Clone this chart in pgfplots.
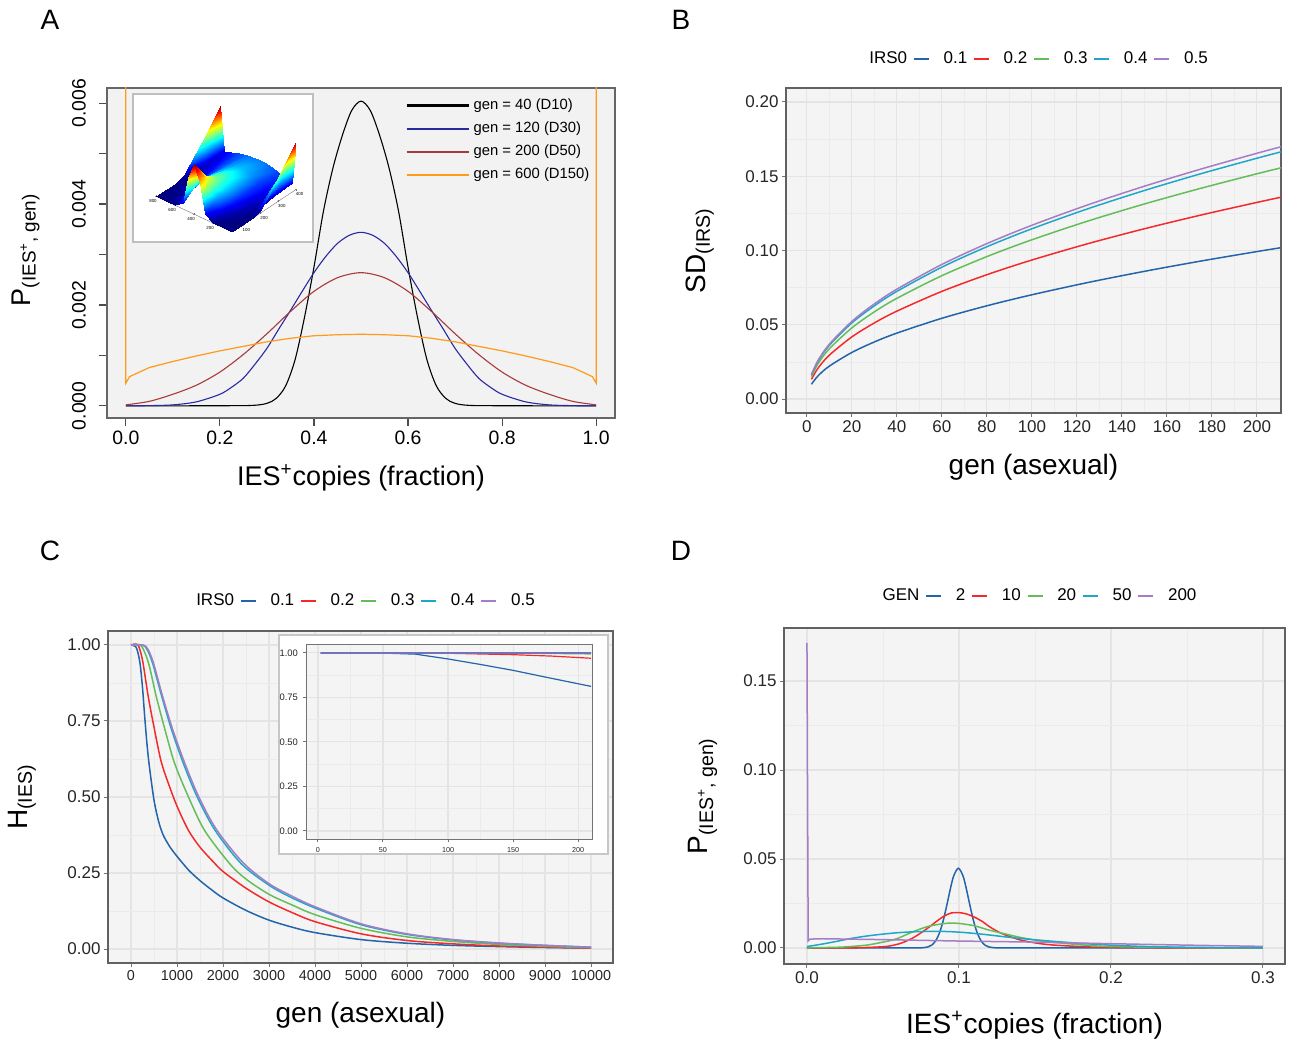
\documentclass[border=0pt]{standalone}
\usepackage{fontspec}
\setmainfont{Liberation Sans}
\usepackage{pgfplots}
\pgfplotsset{compat=1.18}
\definecolor{pbg}{HTML}{F4F4F4}
\definecolor{abg}{HTML}{F2F2F2}
\definecolor{gmaj}{HTML}{E4E4E4}
\definecolor{gmin}{HTML}{EBEBEB}
\definecolor{cblue}{HTML}{2364AA}
\definecolor{cred}{HTML}{F42A2A}
\definecolor{cgreen}{HTML}{63BE5A}
\definecolor{ccyan}{HTML}{1FA7C9}
\definecolor{cpurple}{HTML}{A67DC4}
\definecolor{aBlue}{HTML}{2A2AA0}
\definecolor{aRed}{HTML}{A83A3A}
\definecolor{aOrange}{HTML}{FF9A1A}
\pgfplotsset{
 gg/.style={
  scale only axis,
  axis background/.style={fill=pbg},
  axis line style={draw=black!62, line width=0.6pt},
  grid=both,
  major grid style={draw=gmaj, line width=0.55pt},
  minor grid style={draw=gmin, line width=0.35pt},
  tick align=outside, major tick length=2.2pt, minor tick length=0pt,
  tick style={draw=black!55, line width=0.5pt},
  xtick pos=lower, ytick pos=left,
  xticklabel shift=-2pt, yticklabel shift=-2pt,
  scaled x ticks=false, scaled y ticks=false,
  /pgf/number format/assume math mode=true,
  ticklabel style={font=\fontsize{8.5}{10}\selectfont, text=black!85},
  label style={font=\fontsize{14}{16}\selectfont},
  legend columns=-1,
  legend style={draw=none, fill=none, font=\fontsize{8.5}{10}\selectfont, anchor=center,
    /tikz/every odd column/.append style={column sep=5pt},
    /tikz/every even column/.append style={column sep=1pt}},
  legend image code/.code={\draw[##1, line width=0.75pt] (0pt,0pt) -- (7.5pt,0pt);},
  every axis plot/.append style={line width=0.75pt},
 },
}
\begin{document}
\begin{tikzpicture}
\path[use as bounding box] (0,0) rectangle (645pt,-521pt);
\node[font=\fontsize{14}{16}\selectfont] at (25pt,-10pt) {A};
\node[font=\fontsize{14}{16}\selectfont] at (340.5pt,-10pt) {B};
\node[font=\fontsize{14}{16}\selectfont] at (25pt,-275.5pt) {C};
\node[font=\fontsize{14}{16}\selectfont] at (340.5pt,-275.5pt) {D};

% ---------------- Panel A
\begin{axis}[
 at={(53.5pt,-44pt)}, anchor=north west, scale only axis, width=254pt, height=165pt,
 xmin=-0.04, xmax=1.04, ymin=-0.00024, ymax=0.0063,
 axis background/.style={fill=abg},
 axis line style={draw=black!60, line width=0.7pt},
 tick align=outside, major tick length=4pt, tick style={draw=black!70, line width=0.6pt},
 xtick pos=lower, ytick pos=left,
 scaled x ticks=false, scaled y ticks=false,
 xtick={0,0.2,0.4,0.6,0.8,1}, xticklabels={0.0,0.2,0.4,0.6,0.8,1.0},
 ytick={0,0.001,0.002,0.003,0.004,0.005,0.006}, yticklabels={0.000,,0.002,,0.004,,0.006},
 /pgf/number format/assume math mode=true,
 ticklabel style={font=\fontsize{9.7}{11}\selectfont},
 yticklabel style={rotate=90, anchor=south},
 yticklabel shift=3pt, xticklabel shift=-1pt,
 xlabel={IES\textsuperscript{+}copies (fraction)},
 ylabel={P\textsubscript{(IES\textsuperscript{+}, gen)}},
 xlabel style={at={(axis description cs:0.5,-0.182)}, anchor=center, font=\fontsize{13.5}{15}\selectfont},
 ylabel style={at={(axis description cs:-0.160,0.51)}, anchor=center, font=\fontsize{13.5}{15}\selectfont},
 legend style={at={(axis description cs:0.575,0.993)}, anchor=north west, draw=none, fill=none,
   font=\fontsize{7.4}{9}\selectfont, row sep=0.7pt},
 legend cell align=left,
 legend image code/.code={\draw[#1, line width=1.1pt] (0pt,0pt) -- (31pt,0pt);},
]
\addplot[black, smooth, line width=0.55pt] coordinates {(0,0)(0.2,0.000003)(0.27,0.00001)(0.3,0.00005)(0.32,0.00015)(0.34,0.0004)(0.36,0.00092)(0.38,0.00176)(0.4,0.00275)(0.42,0.00385)(0.44,0.0047)(0.46,0.00535)(0.48,0.00585)(0.5,0.00604)(0.52,0.00585)(0.54,0.00535)(0.56,0.0047)(0.58,0.00385)(0.6,0.00275)(0.62,0.00176)(0.64,0.00092)(0.66,0.0004)(0.68,0.00015)(0.7,0.00005)(0.73,0.00001)(0.8,0.000003)(1,0)};
\addlegendentry{gen = 40 (D10)}
\addplot[aBlue, smooth, line width=0.55pt] coordinates {(0,0)(0.05,0.000005)(0.1,0.00002)(0.15,0.00008)(0.2,0.00023)(0.225,0.00037)(0.25,0.00055)(0.275,0.00083)(0.3,0.00114)(0.325,0.00152)(0.35,0.00189)(0.375,0.00227)(0.4,0.00264)(0.425,0.00296)(0.45,0.00322)(0.475,0.00338)(0.5,0.00344)(0.525,0.00338)(0.55,0.00322)(0.575,0.00296)(0.6,0.00264)(0.625,0.00227)(0.65,0.00189)(0.675,0.00152)(0.7,0.00114)(0.725,0.00083)(0.75,0.00055)(0.775,0.00037)(0.8,0.00023)(0.85,0.00008)(0.9,0.00002)(0.95,0.000005)(1,0)};
\addlegendentry{gen = 120 (D30)}
\addplot[aRed, smooth, line width=0.55pt] coordinates {(0,0.00002)(0.05,0.00009)(0.1,0.00023)(0.15,0.00041)(0.2,0.00067)(0.25,0.00102)(0.3,0.00143)(0.35,0.00187)(0.4,0.00227)(0.45,0.00254)(0.5,0.00264)(0.55,0.00254)(0.6,0.00227)(0.65,0.00187)(0.7,0.00143)(0.75,0.00102)(0.8,0.00067)(0.85,0.00041)(0.9,0.00023)(0.95,0.00009)(1,0.00002)};
\addlegendentry{gen = 200 (D50)}
\addplot[aOrange, line width=0.6pt] coordinates {(0,0.007)(0,0.00045)(0.008,0.00058)(0.05,0.00076)(0.1,0.00088)(0.15,0.00099)(0.2,0.00109)(0.25,0.00118)(0.3,0.00127)(0.35,0.00134)(0.4,0.00139)(0.45,0.00141)(0.5,0.00142)(0.55,0.00141)(0.6,0.00139)(0.65,0.00134)(0.7,0.00127)(0.75,0.00118)(0.8,0.00109)(0.85,0.00099)(0.9,0.00088)(0.95,0.00076)(0.992,0.00058)(1,0.00045)(1,0.007)};
\addlegendentry{gen = 600 (D150)}
\end{axis}
\filldraw[fill=white, draw=black!25, line width=0.6pt] (66.5pt,-47pt) rectangle (156.5pt,-121pt);
\begin{axis}[
 at={(113pt,-84pt)}, anchor=center, scale only axis, width=70pt, height=64pt,
 view={-50}{48},
 xmin=40, xmax=400, ymin=0, ymax=800, zmin=0, zmax=0.006,
 axis lines=left, hide z axis,
 axis line style={-, draw=black!55, line width=0.2pt},
 tick style={draw=black!55, line width=0.2pt}, major tick length=1pt,
 xtick={100,200,300,400}, ytick={200,400,600,800},
 /pgf/number format/assume math mode=true,
 ticklabel style={font=\fontsize{2.2}{2.5}\selectfont, inner sep=0.4pt},
 scaled z ticks=false,
 colormap/jet,
]
\addplot3[surf, shader=interp] coordinates {
(40,0,0)(40,40,0)(40,120,0)(40,200,0.00002)(40,280,0.0007)(40,340,0.004)(40,400,0.006)(40,460,0.004)(40,520,0.0007)(40,600,0.00002)(40,680,0)(40,760,0)(40,800,0)

(100,0,0)(100,40,0)(100,120,0.00005)(100,200,0.0004)(100,280,0.0017)(100,340,0.0031)(100,400,0.0038)(100,460,0.0031)(100,520,0.0017)(100,600,0.0004)(100,680,0.00005)(100,760,0)(100,800,0)

(150,0,0)(150,40,0.00003)(150,120,0.00023)(150,200,0.00085)(150,280,0.0019)(150,340,0.0027)(150,400,0.003)(150,460,0.0027)(150,520,0.0019)(150,600,0.00085)(150,680,0.00023)(150,760,0.00003)(150,800,0)

(200,0,0.0003)(200,40,0.00012)(200,120,0.00041)(200,200,0.00102)(200,280,0.00187)(200,340,0.00242)(200,400,0.00264)(200,460,0.00242)(200,520,0.00187)(200,600,0.00102)(200,680,0.00041)(200,760,0.00012)(200,800,0.0003)

(300,0,0.0028)(300,40,0.0004)(300,120,0.0007)(300,200,0.0011)(300,280,0.0016)(300,340,0.0018)(300,400,0.0019)(300,460,0.0018)(300,520,0.0016)(300,600,0.0011)(300,680,0.0007)(300,760,0.0004)(300,800,0.0028)

(400,0,0.0058)(400,40,0.0006)(400,120,0.0009)(400,200,0.0012)(400,280,0.0014)(400,340,0.00148)(400,400,0.0015)(400,460,0.00148)(400,520,0.0014)(400,600,0.0012)(400,680,0.0009)(400,760,0.0006)(400,800,0.0058)
};
\end{axis}

% ---------------- Panel B
\begin{axis}[gg,
 at={(393pt,-44pt)}, anchor=north west, width=247.5pt, height=162.5pt,
 xmin=-9.3, xmax=210.7, ymin=-0.0094, ymax=0.2094,
 xtick={0,20,40,60,80,100,120,140,160,180,200}, minor x tick num=1,
 ytick={0,0.05,0.1,0.15,0.2}, yticklabels={0.00,0.05,0.10,0.15,0.20}, minor y tick num=1,
 xlabel={gen (asexual)}, ylabel={SD\textsubscript{(IRS)}},
 xlabel style={at={(axis description cs:0.5,-0.166)}, anchor=center},
 ylabel style={at={(axis description cs:-0.174,0.5)}, anchor=center},
 legend style={at={(axis description cs:0.5,1.089)}},
]
\addlegendimage{empty legend}\addlegendentry{IRS0}
\addplot[cblue, smooth] coordinates {(2,0.00993)(5,0.0157)(10,0.0222)(20,0.03139)(30,0.03845)(40,0.0444)(60,0.05438)(80,0.06279)(100,0.0702)(125,0.07849)(150,0.08598)(175,0.09287)(200,0.09928)(212,0.10221)};
\addlegendentry{0.1}
\addplot[cred, smooth] coordinates {(2,0.01324)(5,0.02093)(10,0.0296)(20,0.04186)(30,0.05127)(40,0.0592)(60,0.0725)(80,0.08372)(100,0.0936)(125,0.10465)(150,0.11464)(175,0.12382)(200,0.13237)(212,0.13628)};
\addlegendentry{0.2}
\addplot[cgreen, smooth] coordinates {(2,0.01516)(5,0.02398)(10,0.03391)(20,0.04795)(30,0.05873)(40,0.06782)(60,0.08306)(80,0.09591)(100,0.10723)(125,0.11989)(150,0.13133)(175,0.14185)(200,0.15165)(212,0.15613)};
\addlegendentry{0.3}
\addplot[ccyan, smooth] coordinates {(2,0.01621)(5,0.02563)(10,0.03625)(20,0.05127)(30,0.06279)(40,0.07251)(60,0.0888)(80,0.10254)(100,0.11464)(125,0.12817)(150,0.1404)(175,0.15165)(200,0.16212)(212,0.16692)};
\addlegendentry{0.4}
\addplot[cpurple, smooth] coordinates {(2,0.01655)(5,0.02616)(10,0.037)(20,0.05232)(30,0.06408)(40,0.074)(60,0.09063)(80,0.10465)(100,0.117)(125,0.13081)(150,0.14329)(175,0.15478)(200,0.16546)(212,0.17035)};
\addlegendentry{0.5}
\end{axis}

% ---------------- Panel C
\begin{axis}[gg,
 at={(54pt,-315.5pt)}, anchor=north west, width=252.5pt, height=166pt,
 xmin=-500, xmax=10478, ymin=-0.046, ymax=1.046,
 xtick={0,1000,2000,3000,4000,5000,6000,7000,8000,9000,10000},
 xticklabels={0,1000,2000,3000,4000,5000,6000,7000,8000,9000,10000}, minor x tick num=1,
 xticklabel style={font=\fontsize{7.2}{8}\selectfont},
 ytick={0,0.25,0.5,0.75,1}, yticklabels={0.00,0.25,0.50,0.75,1.00}, minor y tick num=1,
 xlabel={gen (asexual)}, ylabel={H\textsubscript{(IES)}},
 xlabel style={at={(axis description cs:0.5,-0.157)}, anchor=center},
 ylabel style={at={(axis description cs:-0.170,0.5)}, anchor=center},
 legend style={at={(axis description cs:0.5,1.09)}},
]
\addlegendimage{empty legend}\addlegendentry{IRS0}
\addplot[cblue, smooth] coordinates {(0,1)(100,0.995)(150,0.975)(200,0.935)(250,0.86)(300,0.76)(350,0.67)(400,0.6)(500,0.49)(600,0.42)(700,0.375)(850,0.335)(1000,0.305)(1250,0.26)(1500,0.225)(1750,0.195)(2000,0.168)(2500,0.127)(3000,0.095)(3500,0.072)(4000,0.054)(5000,0.031)(6000,0.019)(7000,0.012)(8000,0.008)(9000,0.005)(10000,0.003)};
\addlegendentry{0.1}
\addplot[cred, smooth] coordinates {(0,1)(150,1)(250,0.95)(375,0.83)(500,0.73)(650,0.62)(800,0.55)(1000,0.47)(1250,0.39)(1500,0.335)(1800,0.285)(2000,0.255)(2500,0.2)(3000,0.155)(3500,0.12)(4000,0.09)(5000,0.05)(6000,0.028)(7000,0.017)(8000,0.01)(9000,0.006)(10000,0.003)};
\addlegendentry{0.2}
\addplot[cgreen, smooth] coordinates {(0,1)(200,1)(300,0.975)(400,0.93)(550,0.83)(750,0.715)(950,0.61)(1250,0.5)(1600,0.39)(2150,0.28)(2500,0.23)(3000,0.18)(3500,0.145)(4000,0.113)(5000,0.068)(6000,0.04)(7000,0.025)(8000,0.015)(9000,0.009)(10000,0.004)};
\addlegendentry{0.3}
\addplot[ccyan, smooth] coordinates {(0,1)(250,1)(350,0.985)(470,0.94)(670,0.83)(885,0.72)(1140,0.61)(1440,0.5)(1830,0.39)(2400,0.28)(3000,0.21)(3450,0.172)(4000,0.135)(5000,0.08)(6000,0.048)(7000,0.03)(8000,0.019)(9000,0.012)(10000,0.006)};
\addlegendentry{0.4}
\addplot[cpurple, smooth] coordinates {(0,1)(260,1)(360,0.988)(480,0.945)(680,0.835)(900,0.725)(1160,0.615)(1460,0.505)(1850,0.395)(2430,0.285)(3000,0.215)(3500,0.174)(4000,0.139)(5000,0.083)(6000,0.05)(7000,0.031)(8000,0.02)(9000,0.012)(10000,0.006)};
\addlegendentry{0.5}
\end{axis}
\filldraw[fill=white, draw=black!22, line width=0.8pt] (139.5pt,-317.5pt) rectangle (304pt,-427pt);
\begin{axis}[gg,
 at={(153pt,-322pt)}, anchor=north west, width=143pt, height=97.5pt,
 xmin=-9.2, xmax=210.7, ymin=-0.045, ymax=1.05,
 xtick={0,50,100,150,200}, minor x tick num=1,
 ytick={0,0.25,0.5,0.75,1}, yticklabels={0.00,0.25,0.50,0.75,1.00}, minor y tick num=1,
 major tick length=1.5pt,
 xticklabel shift=-1pt, yticklabel shift=-1pt,
 axis line style={draw=black!55, line width=0.5pt},
 xticklabel style={font=\fontsize{3.6}{4}\selectfont},
 yticklabel style={font=\fontsize{4.7}{5}\selectfont},
 every axis plot/.append style={line width=0.6pt},
]
\addplot[cblue] coordinates {(2,1)(50,0.999)(75,0.993)(100,0.966)(125,0.935)(150,0.902)(175,0.864)(210,0.812)};
\addplot[cred] coordinates {(2,1)(100,0.998)(150,0.99)(180,0.982)(210,0.97)};
\addplot[cgreen] coordinates {(2,1)(150,0.999)(210,0.994)};
\addplot[ccyan] coordinates {(2,1)(210,0.999)};
\addplot[cpurple!60!cblue] coordinates {(2,1)(210,1)};
\end{axis}

% ---------------- Panel D
\begin{axis}[gg,
 at={(392pt,-314pt)}, anchor=north west, width=250.5pt, height=168pt,
 xmin=-0.0151, xmax=0.3145, ymin=-0.009, ymax=0.1798,
 xtick={0,0.1,0.2,0.3}, xticklabels={0.0,0.1,0.2,0.3}, minor x tick num=1,
 ytick={0,0.05,0.1,0.15}, yticklabels={0.00,0.05,0.10,0.15}, minor y tick num=1,
 xlabel={IES\textsuperscript{+}copies (fraction)}, ylabel={P\textsubscript{(IES\textsuperscript{+}, gen)}},
 xlabel style={at={(axis description cs:0.5,-0.182)}, anchor=center},
 ylabel style={at={(axis description cs:-0.162,0.5)}, anchor=center},
 legend style={at={(axis description cs:0.5,1.095)}},
]
\addlegendimage{empty legend}\addlegendentry{GEN}
\addplot[cblue, smooth] coordinates {(0,0)(0.06,0)(0.07,0)(0.075,0.00005)(0.0796,0.00059)(0.0821,0.00163)(0.0846,0.00394)(0.0871,0.00828)(0.0896,0.0152)(0.0921,0.02438)(0.0946,0.0342)(0.0966,0.04065)(0.0996,0.0448)(0.1026,0.04065)(0.1046,0.0342)(0.1071,0.02438)(0.1096,0.0152)(0.1121,0.00828)(0.1146,0.00394)(0.1171,0.00163)(0.1196,0.00059)(0.1246,0.00005)(0.13,0)(0.14,0)(0.3,0)};
\addlegendentry{2}
\addplot[cred, smooth] coordinates {(0,0)(0.03,0.0001)(0.04,0.0003)(0.05,0.0007)(0.055,0.0012)(0.06,0.0022)(0.065,0.0037)(0.07,0.0058)(0.075,0.0085)(0.08,0.0115)(0.085,0.0148)(0.09,0.0178)(0.095,0.0197)(0.1,0.0199)(0.105,0.0191)(0.11,0.0174)(0.115,0.0151)(0.12,0.012)(0.125,0.0095)(0.13,0.0075)(0.14,0.0046)(0.15,0.0029)(0.16,0.0018)(0.18,0.0008)(0.2,0.0003)(0.25,0.00005)(0.3,0)};
\addlegendentry{10}
\addplot[cgreen, smooth] coordinates {(0,0.0001)(0.02,0.0004)(0.03,0.0009)(0.04,0.0017)(0.05,0.0033)(0.055,0.0042)(0.06,0.0055)(0.07,0.0092)(0.08,0.0122)(0.09,0.0137)(0.095,0.014)(0.1,0.0138)(0.11,0.0125)(0.12,0.01)(0.13,0.008)(0.14,0.006)(0.15,0.0045)(0.16,0.0034)(0.18,0.0018)(0.2,0.0008)(0.25,0.0002)(0.3,0.00005)};
\addlegendentry{20}
\addplot[ccyan, smooth] coordinates {(0,0.0008)(0.01,0.0022)(0.02,0.0038)(0.03,0.0055)(0.04,0.0068)(0.05,0.0078)(0.06,0.0086)(0.07,0.0091)(0.08,0.0093)(0.09,0.0093)(0.1,0.0089)(0.11,0.0082)(0.12,0.0073)(0.13,0.0063)(0.14,0.0054)(0.15,0.0046)(0.16,0.0039)(0.18,0.0026)(0.2,0.0016)(0.22,0.0009)(0.25,0.0004)(0.3,0.0001)};
\addlegendentry{50}
\addplot[cpurple] coordinates {(0,0.1715)(0.0008,0.004)(0.002,0.005)(0.01,0.0052)(0.05,0.0047)(0.1,0.0039)(0.15,0.0033)(0.2,0.0024)(0.25,0.0016)(0.3,0.0009)};
\addlegendentry{200}
\end{axis}
\end{tikzpicture}
\end{document}
